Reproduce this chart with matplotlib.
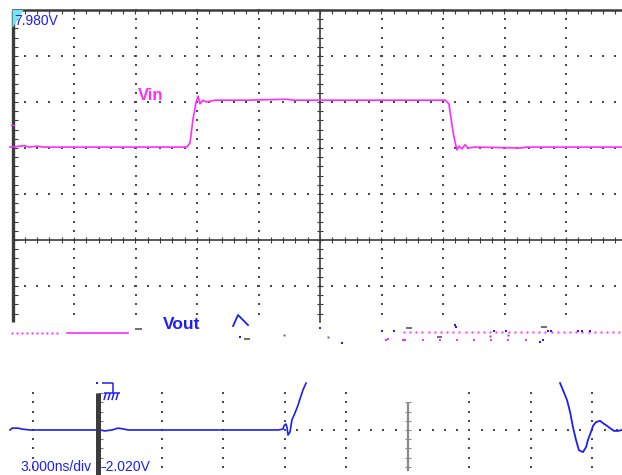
import numpy as np
import matplotlib.pyplot as plt
from matplotlib.collections import LineCollection
from matplotlib.patches import Polygon
from matplotlib.transforms import Bbox, TransformedBbox

# time in ns (3 ns/div), level in screen divisions (0 = centre line)
NS_PER_DIV = 3.0

vin_t = [-15.12, -14.4, -14.2, -13.8, -13.5, -6.49, -6.34, -6.20, -6.05, -5.95, -5.85,
         -5.71, -5.56, -5.12, -3.5, -1.6, -1.3, -1.0, 6.10, 6.29, 6.39, 6.49, 6.59,
         6.68, 6.78, 6.93, 7.07, 7.22, 7.56, 9.8, 10.1, 14.73]
vin_y = [2.02, 2.05, 2.02, 2.04, 2.02, 2.02, 2.11, 2.61, 2.98, 3.13, 2.96,
         3.04, 3.00, 3.04, 3.04, 3.06, 3.04, 3.04, 3.04, 2.96, 2.65, 2.35, 2.13,
         1.96, 2.04, 1.98, 2.07, 2.00, 2.02, 2.00, 2.02, 2.02]

vout_a_t = [-15.12, -15.02, -14.73, -14.54, -14.15, -10.98, -10.73, -10.49, -10.15, -9.85,
            -9.56, -9.37, -9.02, -2.05, -1.80, -1.76, -1.66, -1.61, -1.56, -1.46, -1.37,
            -1.22, -1.07, -0.98, -0.83, -0.68]
vout_a_y = [-4.13, -4.09, -4.09, -4.11, -4.13, -4.13, -4.13, -4.15, -4.13, -4.09,
            -4.11, -4.13, -4.13, -4.13, -4.11, -4.04, -4.00, -4.07, -4.24, -4.17, -3.91,
            -3.76, -3.59, -3.46, -3.26, -3.11]
vout_b_t = [11.71, 11.85, 12.05, 12.20, 12.34, 12.49, 12.63, 12.83, 12.98, 13.07, 13.22,
            13.32, 13.46, 13.66, 13.80, 14.00, 14.15, 14.34, 14.54, 14.73]
vout_b_y = [-3.11, -3.26, -3.48, -3.74, -4.07, -4.35, -4.57, -4.61, -4.50, -4.35, -4.17,
            -4.04, -3.96, -3.93, -3.98, -4.04, -4.09, -4.15, -4.15, -4.13]

# scattered fragments of the broken screen row
frag_gray_dash = [(-9.02, -8.68, -1.93), (-3.71, -3.41, -2.15), (4.20, 4.49, -1.91),
                  (5.71, 5.95, -2.11), (10.78, 11.07, -1.89)]
frag_gray_dot_t = [-1.76, 0.39, 8.29, 9.17]
frag_gray_dot_y = [-2.07, -2.11, -2.09, -2.07]
frag_blue_dot_t = [-3.90, 0.0, 1.07, 3.02, 3.61, 6.59, 6.63, 8.49, 9.07, 10.73, 10.88,
                   11.12, 11.27, 12.59, 12.78, 13.17]
frag_blue_dot_y = [-2.11, -1.91, -2.24, -1.98, -1.98, -1.85, -1.89, -1.98, -1.98, -2.22,
                   -2.17, -1.98, -1.98, -1.98, -1.98, -1.98]
frag_mag_dot_t = [3.22, 3.32, 4.05, 4.15, 5.02, 5.85, 6.68, 7.51, 8.34, 9.17, 10.05]
frag_mag_dot_y = [-2.17, -2.15, -2.17, -2.17, -2.17, -2.17, -2.17, -2.17, -2.17, -2.17, -2.17]
caret_t = [-4.24, -4.00, -3.51]
caret_y = [-1.87, -1.63, -1.85]

label_top = "7.980V"
label_vin = "Vin"
label_vout = "Vout"
label_time = "3.000ns/div"
label_offset = "-2.020V"

MAG = "#ff2bff"
BLUE = "#1e1ef5"
DARK = "#3c3c3c"
DOT = "#4a4a4a"

PX_X = NS_PER_DIV / 61.5   # one screen pixel in ns
PX_Y = 1 / 46.0            # one screen pixel in div

fig = plt.figure(figsize=(6.22, 4.75), dpi=100)
ax = fig.add_axes([0, 0, 1, 1])
ax.set_xlim(-320 * PX_X, 302 * PX_X)
ax.set_ylim(-235 * PX_Y, 240 * PX_Y)
ax.axis("off")

sans = ["Liberation Sans", "DejaVu Sans"]


def dots(t, y, color=DOT, ms=1.6, z=2):
    ax.plot(t, y, ls="none", marker="s", ms=ms, mew=0, color=color, zorder=z)


def ticks(segs, color=DARK, lw=0.8):
    ax.add_collection(LineCollection(segs, colors=color, linewidths=lw, zorder=3))


# ---- upper graticule ----
left, top, bottom = -5 * NS_PER_DIV, 5.0, -1.78
right = 302 * PX_X
for k in range(-4, 5):
    if k == 0:
        continue
    yy = np.arange(top, bottom, -0.2)
    dots(np.full(len(yy), k * NS_PER_DIV), yy)
for j in [4, 3, 2, 1, -1]:
    tt = np.arange(left, right, 0.6)
    dots(tt, np.full(len(tt), float(j)))

ax.plot([left, left], [bottom, top], color=DARK, lw=2.4, zorder=3, solid_capstyle="butt")
ax.plot([left, right], [top, top], color=DARK, lw=1.8, zorder=3)
ax.plot([0, 0], [bottom, top], color=DARK, lw=1.2, zorder=3)
ax.plot([left, right], [0, 0], color=DARK, lw=1.2, zorder=3)

yy = np.arange(top, bottom, -0.2)
ticks([[(left, v), (left + 5 * PX_X, v)] for v in yy])
ticks([[(-3 * PX_X, v), (3 * PX_X, v)] for v in yy])
tt = np.arange(left, right, 0.6)
ticks([[(v, top), (v, top - 4 * PX_Y)] for v in tt])
ticks([[(v, -3 * PX_Y), (v, 3 * PX_Y)] for v in tt])

ax.add_patch(Polygon([(left, top), (left + 11 * PX_X, top), (left, top - 18 * PX_Y)],
                     closed=True, color="#72e6f2", lw=0, zorder=4))
ax.plot([left - 1.5 * PX_X, left + 1 * PX_X], [2.5, 2.5], color=MAG, lw=1, zorder=4)

# ---- traces ----
ax.plot(vin_t, vin_y, color=MAG, lw=1.2, zorder=5)
ax.plot(vout_a_t, vout_a_y, color=BLUE, lw=1.2, zorder=5)
ax.plot(vout_b_t, vout_b_y, color=BLUE, lw=1.3, zorder=5)

# ---- broken row ----
mt = np.arange(-15.02, -12.6, 0.244)
dots(mt, np.full(len(mt), -2.02), color=MAG, ms=1.4)
ax.plot([-12.34, -9.37], [-2.02, -2.02], color=MAG, lw=1.2, zorder=4)
mt = np.arange(4.10, right, 0.30)
dots(mt, np.full(len(mt), -2.0), color=MAG, ms=1.4)
dots(frag_mag_dot_t, frag_mag_dot_y, color=MAG, ms=2.0)
ticks([[(a, y), (b, y)] for a, b, y in frag_gray_dash], color="#555555", lw=1.2)
dots(frag_gray_dot_t, frag_gray_dot_y, color="#666666", ms=1.4)
dots(frag_blue_dot_t, frag_blue_dot_y, color=BLUE, ms=2.0)
ax.plot(caret_t, caret_y, color=BLUE, lw=1.3, zorder=5)

# ---- lower graticule (shifted copy) ----
lc = 4.29
lo_top, lo_bot, row = -3.33, -5.0, -4.13
col_t = [-14.0, -7.71, -4.71, -1.71, 1.29, 7.29, 10.29, 13.29]
yy = row + 0.2 * np.arange(-4, 5)
for c in col_t:
    dots(np.full(len(yy), c), yy)
tt = np.arange(lc - 0.6 * 10, right, 0.6)
dots(tt, np.full(len(tt), row))
ax.plot([lc, lc], [-3.56, lo_bot], color="#8a8a8a", lw=1.6, zorder=3)
ticks([[(lc - 3 * PX_X, v), (lc + 3 * PX_X, v)] for v in yy[:-1] if v < -3.5], color="#8a8a8a")
bar_t = -10.85
ax.plot([bar_t, bar_t], [lo_top, lo_bot - 0.2], color=DARK, lw=3.6, zorder=7,
        solid_capstyle="butt")
ticks([[(bar_t, v), (bar_t + 5 * PX_X, v)] for v in yy], color="#777777")

# ground marker
gnd = [[(-10.63, -3.11), (-10.10, -3.11)], [(-10.10, -3.11), (-10.10, -3.33)],
       [(-10.54, -3.33), (-9.76, -3.33)]]
gnd += [[(h, -3.33), (h - 0.10, -3.48)] for h in (-10.44, -10.24, -10.05, -9.85)]
ax.add_collection(LineCollection(gnd, colors=BLUE, linewidths=1.1, zorder=6))
dots([-10.88], [-3.11], color=BLUE, ms=2.0, z=8)

# ---- text ----
ax.text(left + 2 * PX_X, top - 15 * PX_Y, label_top, color=BLUE, fontsize=10,
        family=sans, zorder=6)
ax.text(-8.88, 3.04, label_vin, color=MAG, fontsize=12, fontweight="bold",
        family=sans, zorder=6)
t = ax.text(-7.66, -1.93, label_vout, color=BLUE, fontsize=12.5, fontweight="bold",
            family=sans, zorder=6)
t.set_clip_box(TransformedBbox(Bbox([[-9, -1.89], [-5, 0]]), ax.transData))
ax.text(-14.62, -5.03, label_time, color=BLUE, fontsize=10, family=sans, zorder=6)
ax.text(-10.68, -5.03, label_offset, color=BLUE, fontsize=10, family=sans, zorder=6)

fig.savefig("out.png", dpi=100)
